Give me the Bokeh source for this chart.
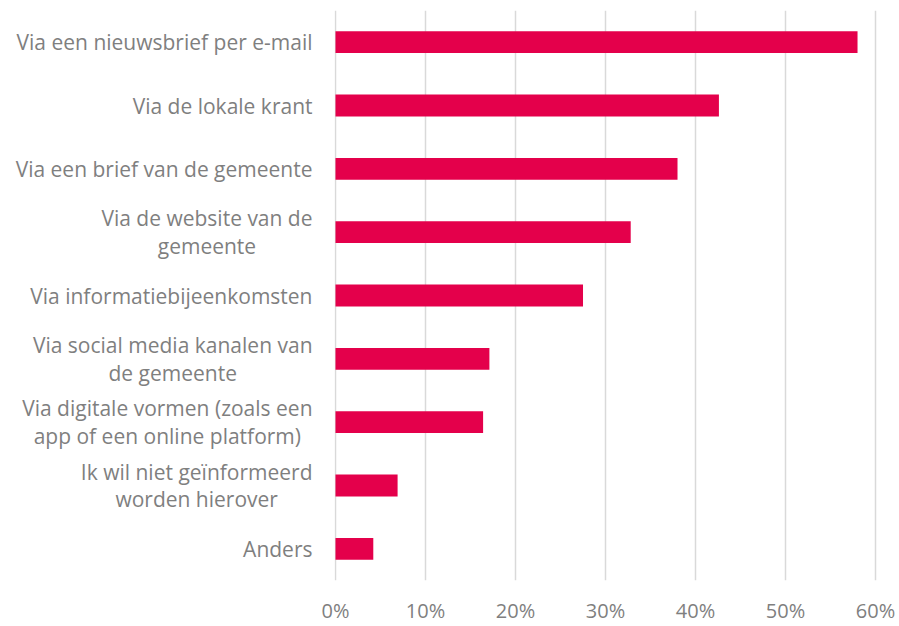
import glob
import subprocess

from bokeh.plotting import figure
from bokeh.layouts import row
from bokeh.models import ColumnDataSource, FactorRange, Range1d, FixedTicker
from bokeh.core.properties import value
from bokeh.embed import file_html
from bokeh.resources import INLINE

# ---------------- data ----------------
categories = [
    "Via een nieuwsbrief per e-mail",
    "Via de lokale krant",
    "Via een brief van de gemeente",
    "Via de website van de\ngemeente",
    "Via informatiebijeenkomsten",
    "Via social media kanalen van\nde gemeente",
    "Via digitale vormen (zoals een\napp of een online platform)",
    "Ik wil niet geïnformeerd\nworden hierover",
    "Anders",
]
values = [58.0, 42.6, 38.0, 32.8, 27.5, 17.1, 16.4, 6.9, 4.2]
tick_values = [0, 10, 20, 30, 40, 50, 60]
tick_labels = ["0%", "10%", "20%", "30%", "40%", "50%", "60%"]

# ---------------- style ----------------
FONT = "Open Sans"
LABEL_SIZE = 21
TICK_SIZE = 20
LINE_HEIGHT = 0.98
TEXT_COLOR = "#7f7f7f"
BAR_COLOR = "#E4004B"
GRID_COLOR = "#d9d9d9"
LEFT_W = 319          # width of the label column (px)
PLOT_PAD_LEFT = 15    # main figure border left of the frame (px)
LABEL_RIGHT = 312     # right edge of the label blocks (px)
TOP, BOTTOM = 10, 44


def _font_file(name):
    try:
        out = subprocess.run(["fc-match", "-f", "%{file}", name],
                             capture_output=True, text=True, timeout=5).stdout.strip()
        if out:
            return out
    except Exception:
        pass
    for pat in ["/usr/share/fonts/**/OpenSans*.ttf", "/usr/local/share/fonts/**/OpenSans*.ttf"]:
        found = sorted(glob.glob(pat, recursive=True))
        if found:
            return found[0]
    return None


def _measure_factory(size):
    try:
        from PIL import ImageFont
        f = ImageFont.truetype(_font_file(FONT), size)
        return lambda s: f.getlength(s)
    except Exception:
        return lambda s: len(s) * size * 0.50


measure = _measure_factory(LABEL_SIZE)

order = list(reversed(categories))
y_range = FactorRange(factors=order, range_padding=0)

# ---------------- label column ----------------
lf = figure(width=LEFT_W, height=626, y_range=y_range, x_range=Range1d(0, LEFT_W),
            output_backend="svg", toolbar_location=None,
            min_border_left=0, min_border_right=0,
            min_border_top=TOP, min_border_bottom=BOTTOM)
lf.axis.visible = False
lf.grid.visible = False
lf.outline_line_color = None
lf.background_fill_color = "white"
lf.border_fill_color = "white"

single = [c for c in categories if "\n" not in c]
multi = [c for c in categories if "\n" in c]
multi_x = [LABEL_RIGHT - max(measure(l) for l in c.split("\n")) / 2.0 for c in multi]

lf.text(x=[LABEL_RIGHT] * len(single), y=single, text=single,
        text_align="right", text_baseline="middle",
        text_font=value(FONT), text_font_size=f"{LABEL_SIZE}px", text_color=TEXT_COLOR)
lf.text(x=multi_x, y=multi, text=multi,
        text_align="center", text_baseline="middle",
        text_font=value(FONT), text_font_size=f"{LABEL_SIZE}px", text_color=TEXT_COLOR,
        text_line_height=LINE_HEIGHT)

# ---------------- bar chart ----------------
p = figure(
    width=899 - LEFT_W, height=626,
    y_range=y_range,
    x_range=Range1d(-0.11, 60.33),
    output_backend="svg", toolbar_location=None,
    min_border_left=PLOT_PAD_LEFT, min_border_right=21,
    min_border_top=TOP, min_border_bottom=BOTTOM,
)
p.outline_line_color = None
p.background_fill_color = "white"
p.border_fill_color = "white"

src = ColumnDataSource(dict(cat=categories, val=values))
p.hbar(y="cat", right="val", left=0, height=0.345, source=src,
       fill_color=BAR_COLOR, line_color=None)

p.yaxis.visible = False
p.ygrid.grid_line_color = None

xa = p.xaxis[0]
xa.ticker = FixedTicker(ticks=tick_values)
xa.major_label_overrides = {t: l for t, l in zip(tick_values, tick_labels)}
xa.axis_line_color = None
xa.major_tick_line_color = None
xa.minor_tick_line_color = None
xa.major_tick_out = 0
xa.major_tick_in = 0
xa.major_label_standoff = 16
xa.major_label_text_font = FONT
xa.major_label_text_font_size = f"{TICK_SIZE}px"
xa.major_label_text_color = TEXT_COLOR

p.xgrid.ticker = FixedTicker(ticks=tick_values)
p.xgrid.grid_line_color = GRID_COLOR
p.xgrid.grid_line_width = 1.5
p.xgrid.level = "underlay"

layout = row(lf, p, spacing=0)
open("out.html", "w").write(file_html(layout, INLINE))
